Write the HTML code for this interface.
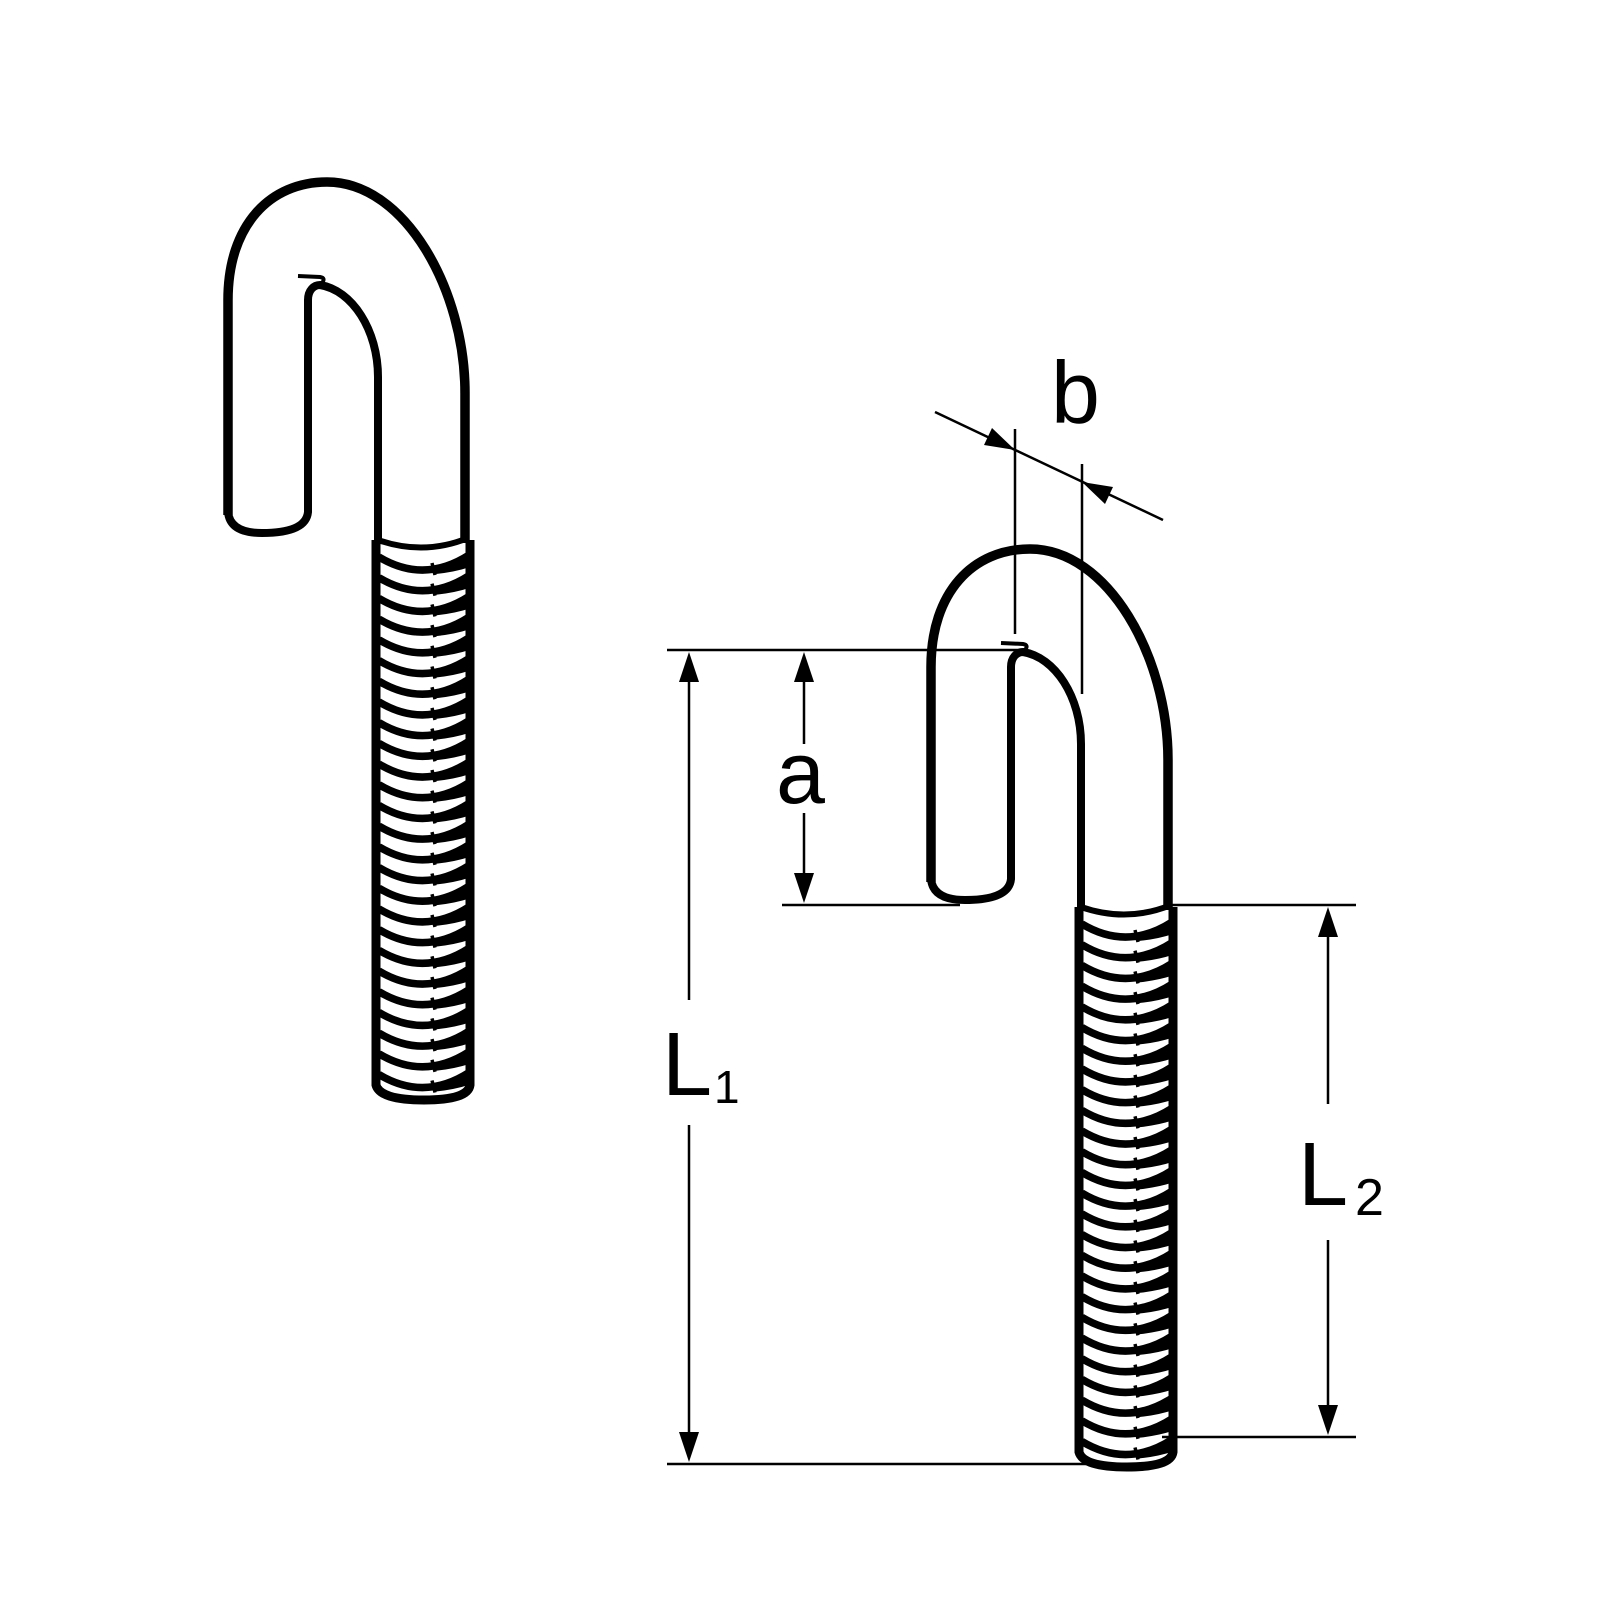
<!DOCTYPE html>
<html><head><meta charset="utf-8"><style>
html,body{margin:0;padding:0;background:#fff;}
svg{display:block;}
text{font-family:"Liberation Sans",Arial,sans-serif;fill:#000;}
</style></head><body>
<svg width="1600" height="1600" viewBox="0 0 1600 1600" xmlns="http://www.w3.org/2000/svg">
<defs>
  <g id="th">
    <path d="M379,-3 Q424,24 469,-5" fill="none" stroke="#000" stroke-width="7.5"/>
    <path d="M436,9 Q456,3 470,-8 L470,7 Q455,12 436,14 Z" fill="#000"/>
    <path d="M432,3 L435,15" stroke="#000" stroke-width="3.5"/>
  </g>
  <g id="hook">
    <rect x="378" y="540" width="92" height="560" fill="#fff"/>
    <path d="M228,515 L228,300 C228,225 270,182 327,182 C405,182 465,290 465,393 L465,543" fill="none" stroke="#000" stroke-width="9.5" stroke-linejoin="round"/>
    <path d="M228,512 Q230,533 262,533 Q306,533 308,512 L308,300 C308,290 314,285 320,285 C352,290 378,330 378,377 L378,543" fill="none" stroke="#000" stroke-width="8" stroke-linejoin="round"/>
    <path d="M298,276 L320,277 Q326,278 322,283" fill="none" stroke="#000" stroke-width="4"/>
    <path d="M376,540 L376,1085 Q380,1100 424,1100 Q468,1100 470,1085 L470,540" fill="none" stroke="#000" stroke-width="9"/>
    <path d="M378,540 Q424,556 468,538" fill="none" stroke="#000" stroke-width="6"/>
    <use href="#th" y="560"/><use href="#th" y="580.7"/><use href="#th" y="601.4"/><use href="#th" y="622.1"/>
    <use href="#th" y="642.8"/><use href="#th" y="663.5"/><use href="#th" y="684.2"/><use href="#th" y="704.9"/>
    <use href="#th" y="725.6"/><use href="#th" y="746.3"/><use href="#th" y="767"/><use href="#th" y="787.7"/>
    <use href="#th" y="808.4"/><use href="#th" y="829.1"/><use href="#th" y="849.8"/><use href="#th" y="870.5"/>
    <use href="#th" y="891.2"/><use href="#th" y="911.9"/><use href="#th" y="932.6"/><use href="#th" y="953.3"/>
    <use href="#th" y="974"/><use href="#th" y="994.7"/><use href="#th" y="1015.4"/><use href="#th" y="1036.1"/>
    <use href="#th" y="1056.8"/><use href="#th" y="1077.5"/>
  </g>
</defs>

<use href="#hook"/>
<use href="#hook" transform="translate(703,367)"/>

<g stroke="#000" stroke-width="2.5" fill="none">
  <line x1="667" y1="650" x2="1020" y2="650"/>
  <line x1="667" y1="1464" x2="1130" y2="1464"/>
  <line x1="689" y1="675" x2="689" y2="1000"/>
  <line x1="689" y1="1125" x2="689" y2="1440"/>
  <line x1="782" y1="905" x2="960" y2="905"/>
  <line x1="804" y1="675" x2="804" y2="744"/>
  <line x1="804" y1="813" x2="804" y2="880"/>
  <line x1="1168" y1="905" x2="1356" y2="905"/>
  <line x1="1162" y1="1437" x2="1356" y2="1437"/>
  <line x1="1328" y1="930" x2="1328" y2="1104"/>
  <line x1="1328" y1="1240" x2="1328" y2="1412"/>
  <line x1="1015" y1="429" x2="1015" y2="634"/>
  <line x1="1082" y1="464" x2="1082" y2="694"/>
  <line x1="935" y1="412" x2="1163" y2="520"/>
</g>
<g fill="#000">
  <polygon points="689,652 679,682 699,682"/>
  <polygon points="689,1462 679,1432 699,1432"/>
  <polygon points="804,652 794,682 814,682"/>
  <polygon points="804,903 794,873 814,873"/>
  <polygon points="1328,907 1318,937 1338,937"/>
  <polygon points="1328,1435 1318,1405 1338,1405"/>
  <polygon points="1015,450 984,445 992,428"/>
  <polygon points="1082,482 1105,504 1113,487"/>
</g>

<text x="662" y="1095" font-size="90">L</text>
<text x="714" y="1103" font-size="46">1</text>
<text x="1298" y="1205" font-size="90">L</text>
<text x="1355" y="1215" font-size="52">2</text>
<text x="776" y="803" font-size="88">a</text>
<text x="1051" y="423" font-size="88">b</text>
</svg>
</body></html>
